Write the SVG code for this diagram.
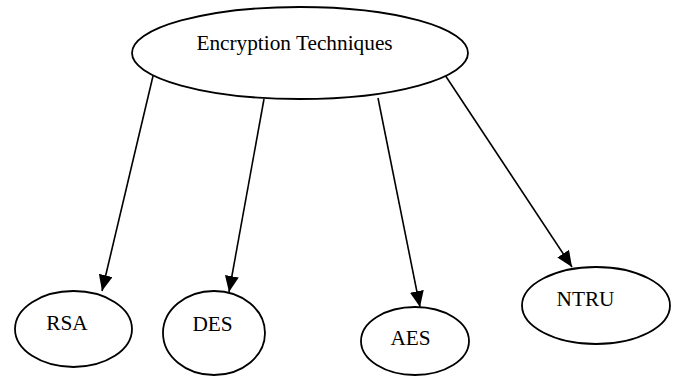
<svg xmlns="http://www.w3.org/2000/svg" width="675" height="376" viewBox="0 0 675 376">
<style>
.node ellipse{fill:#fff;stroke:#000;stroke-width:1.8}
.node text{font-family:"Liberation Serif","Times New Roman",serif;font-size:21.3px;fill:#000;text-anchor:middle}
.edges path{stroke:#000;stroke-width:1.6;fill:none;marker-end:url(#arrow)}
</style>
<defs>
<marker id="arrow" markerUnits="userSpaceOnUse" markerWidth="18" markerHeight="16" refX="16" refY="7" orient="auto">
<path d="M0,0 L16,7 L0,14 Z" fill="#000"/>
</marker>
</defs>
<rect width="675" height="376" fill="#fff"/>
<g class="edges">
<path d="M153,76 L102,291"/>
<path d="M264,99 L229,292"/>
<path d="M378,98 L420,307"/>
<path d="M445,75 L572,267"/>
</g>
<g id="root" class="node">
<ellipse cx="300" cy="53" rx="168" ry="46"/>
<text x="294.5" y="50">Encryption Techniques</text>
</g>
<g id="rsa" class="node">
<ellipse cx="73.5" cy="329" rx="58.5" ry="38"/>
<text x="67" y="330">RSA</text>
</g>
<g id="des" class="node">
<ellipse cx="214" cy="333" rx="51" ry="42"/>
<text x="212.5" y="331">DES</text>
</g>
<g id="aes" class="node">
<ellipse cx="415" cy="341" rx="54" ry="34"/>
<text x="410.5" y="345">AES</text>
</g>
<g id="ntru" class="node">
<ellipse cx="596" cy="305.5" rx="74" ry="38.5"/>
<text x="585.5" y="306">NTRU</text>
</g>
</svg>
